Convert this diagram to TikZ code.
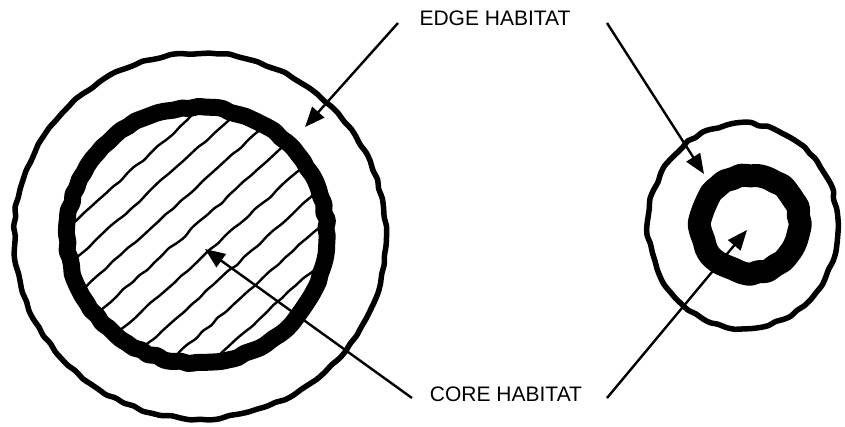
\documentclass[tikz,border=0pt]{standalone}
\usepackage{fontspec}
\setmainfont{Liberation Sans}
\usetikzlibrary{arrows.meta,calc}
\begin{document}
\begin{tikzpicture}[x=1pt,y=-1pt,
  ring/.style={draw=black,line width=#1,line join=round},
  hatchline/.style={draw=black,line width=2.4pt,line cap=round,line join=round},
  pointer/.style={draw=black,line width=2.4pt,-{Triangle[length=20pt,width=16pt]}},
  label/.style={font=\fontsize{21}{25}\selectfont,inner sep=2pt}]
\pgfmathsetseed{11}
\useasboundingbox (0,0) rectangle (845,426);
% left large patch
\draw[ring=5.5pt,shift={(200,236)}] plot[smooth cycle,domain=0:357,samples=120,variable=\t] ({(186+rand*1.3)*cos(\t)},{(183+rand*1.3)*sin(\t)});
\begin{scope}
  \clip (197,235) circle [radius=126pt];
  \foreach \d in {-92,-64,-36,-8,20,48,76,104} {
    \draw[hatchline] plot[smooth,domain=-150:150,samples=31,variable=\s] ({197+0.669*\d+0.743*\s+rand*0.9},{235+0.743*\d-0.669*\s+rand*0.9});
  }
\end{scope}
\draw[ring=17pt,shift={(197,235)}] plot[smooth cycle,domain=0:357,samples=100,variable=\t] ({(130+rand*1.2)*cos(\t)},{(128+rand*1.2)*sin(\t)});
% right small patch
\draw[ring=5.5pt,shift={(743,226)}] plot[smooth cycle,domain=0:355,samples=72,variable=\t] ({(95+rand*1.5)*cos(\t)},{(103+rand*1.5)*sin(\t)});
\draw[ring=23pt,shift={(750,224)}] plot[smooth cycle,domain=0:350,samples=36,variable=\t] ({(50+rand*1.5)*cos(\t)},{(49+rand*1.5)*sin(\t)});
% labels
\node[label] (edge) at (495,18) {EDGE HABITAT};
\node[label] (core) at (506,394) {CORE HABITAT};
\coordinate (edgeL0) at (398,23);
\coordinate (edgeL) at (305,127);
\coordinate (edgeR0) at (607,23);
\coordinate (edgeR) at (704,174);
\coordinate (coreL0) at (412,398);
\coordinate (coreL) at (205,249);
\coordinate (coreR0) at (607,398);
\coordinate (coreR) at (747,230);
\draw[pointer] (edgeL0) -- (edgeL);
\draw[pointer] (edgeR0) -- (edgeR);
\draw[pointer] (coreL0) -- (coreL);
\draw[pointer] (coreR0) -- (coreR);
\end{tikzpicture}
\end{document}
